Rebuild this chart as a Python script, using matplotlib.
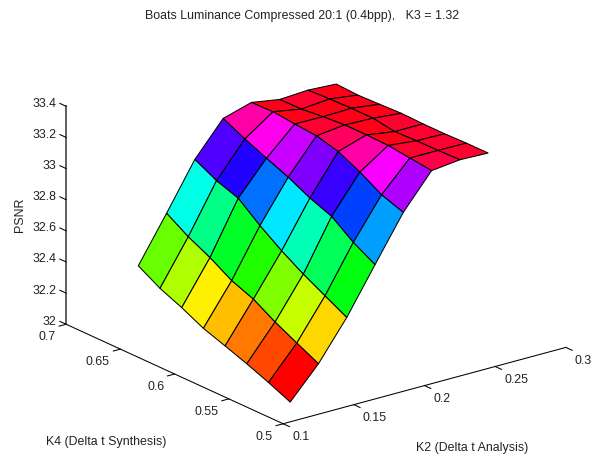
import numpy as np
import matplotlib
matplotlib.use("Agg")
import matplotlib.pyplot as plt
from matplotlib.colors import ListedColormap, hsv_to_rgb
from mpl_toolkits.mplot3d import proj3d

plt.rcParams['font.family'] = ['Liberation Sans', 'DejaVu Sans']

# sampled K2 and K4 values
k2 = [0.105, 0.125, 0.145, 0.165, 0.185, 0.205, 0.225, 0.245]
k4 = [0.50, 0.52, 0.54, 0.56, 0.58, 0.60, 0.62, 0.64]

# PSNR, one row per K2 value, columns follow k4
psnr_k2_0 = [32.127, 32.189, 32.245, 32.296, 32.345, 32.414, 32.474, 32.555]
psnr_k2_1 = [32.324, 32.393, 32.464, 32.547, 32.602, 32.686, 32.756, 32.843]
psnr_k2_2 = [32.572, 32.647, 32.722, 32.808, 32.906, 33.018, 33.067, 33.140]
psnr_k2_3 = [32.862, 32.941, 33.044, 33.098, 33.168, 33.226, 33.286, 33.354]
psnr_k2_4 = [33.149, 33.198, 33.280, 33.348, 33.385, 33.397, 33.412, 33.408]
psnr_k2_5 = [33.368, 33.385, 33.402, 33.406, 33.406, 33.395, 33.380, 33.378]
psnr_k2_6 = [33.389, 33.385, 33.383, 33.378, 33.400, 33.400, 33.396, 33.389]
psnr_k2_7 = [33.383, 33.383, 33.379, 33.379, 33.383, 33.377, 33.372, 33.379]

k2_ticks = [0.1, 0.15, 0.2, 0.25, 0.3]
k2_labels = ['0.1', '0.15', '0.2', '0.25', '0.3']
k4_ticks = [0.5, 0.55, 0.6, 0.65, 0.7]
k4_labels = ['0.5', '0.55', '0.6', '0.65', '0.7']
z_ticks = [32, 32.2, 32.4, 32.6, 32.8, 33, 33.2, 33.4]
z_labels = ['32', '32.2', '32.4', '32.6', '32.8', '33', '33.2', '33.4']

FW, FH = 605, 455
FONT = 8.9
TEXT_COLOR = '#222222'

Z = np.array([psnr_k2_0, psnr_k2_1, psnr_k2_2, psnr_k2_3,
              psnr_k2_4, psnr_k2_5, psnr_k2_6, psnr_k2_7])
X, Y = np.meshgrid(k2, k4, indexing='ij')

fig = plt.figure(figsize=(FW / 100, FH / 100), dpi=100)
side = 539
ax = fig.add_axes([(316 - 0.5135 * side) / FW, (228.15 - 0.5135 * side) / FH,
                   side / FW, side / FH], projection='3d', proj_type='ortho')
ax.view_init(elev=20.6, azim=-127.5)
ax.set_box_aspect((356.6, 356.6, 233))
ax.set_xlim(0.1, 0.3)
ax.set_ylim(0.5, 0.7)
ax.set_zlim(32, 33.4)
ax.set_axis_off()


def tick_text(x, y, z, label, dx, dy, ha):
    # label sits dx, dy pixels away from the projected tick position
    px, py, _ = proj3d.proj_transform(x, y, z, ax.get_proj())
    ax.annotate(label, (px, py), xytext=(dx, dy), textcoords='offset pixels',
                ha=ha, va='center', fontsize=FONT, color=TEXT_COLOR)


# hsv map with plain linear hue, flat shading from each cell's first corner
hues = np.arange(64) / 64
cmap = ListedColormap(hsv_to_rgb(np.column_stack([hues, np.ones(64), np.ones(64)])))
norm = plt.Normalize(Z.min(), Z.max())
ax.plot_surface(X, Y, Z, rstride=1, cstride=1, facecolors=cmap(norm(Z)),
                edgecolor='black', linewidth=0.75, shade=False, antialiased=True)

# axis lines
ax.plot([0.1, 0.3], [0.5, 0.5], [32, 32], color='black', lw=0.75)
ax.plot([0.1, 0.1], [0.5, 0.7], [32, 32], color='black', lw=0.75)
ax.plot([0.1, 0.1], [0.7, 0.7], [32, 33.4], color='#444444', lw=1.2)

for t, lab in zip(k2_ticks, k2_labels):
    ax.plot([t, t], [0.5, 0.4942], [32, 32], color='black', lw=0.75)
    tick_text(t, 0.5, 32, lab, 9, -13.5, 'left')
for t, lab in zip(k4_ticks, k4_labels):
    ax.plot([0.1, 0.095], [t, t], [32, 32], color='black', lw=0.75)
    tick_text(0.1, t, 32, lab, -10.5, -13, 'right')
for t, lab in zip(z_ticks, z_labels):
    ax.plot([0.1, 0.1], [0.7, 0.7058], [t, t], color='black', lw=0.75)
    tick_text(0.1, 0.7, t, lab, -10, 2.5, 'right')

fig.text(302.5 / FW, 1 - 16 / FH, 'Boats Luminance Compressed 20:1 (0.4bpp),   K3 = 1.32',
         ha='center', va='center', fontsize=FONT, color=TEXT_COLOR)
fig.text(105.7 / FW, 1 - 441.7 / FH, 'K4 (Delta t Synthesis)',
         ha='center', va='center', fontsize=FONT, color=TEXT_COLOR)
fig.text(472.3 / FW, 1 - 447.7 / FH, 'K2 (Delta t Analysis)',
         ha='center', va='center', fontsize=FONT, color=TEXT_COLOR)
fig.text(20.5 / FW, 1 - 215 / FH, 'PSNR', rotation=90,
         ha='center', va='center', fontsize=FONT, color=TEXT_COLOR)

fig.savefig('out.png', dpi=100)
